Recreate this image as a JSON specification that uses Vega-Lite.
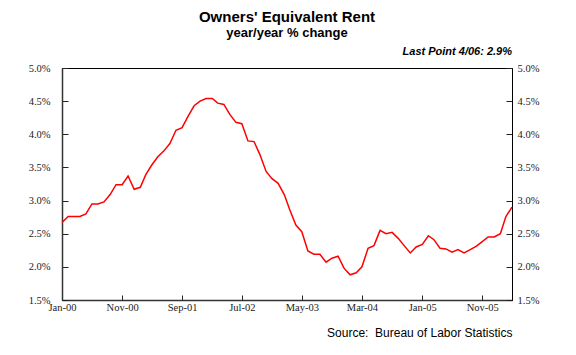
{
  "$schema": "https://vega.github.io/schema/vega-lite/v6.json",
  "autosize": "none",
  "width": 450,
  "height": 232,
  "padding": {"left": 62, "top": 68, "right": 64, "bottom": 55},
  "background": "white",
  "title": {
    "text": "Owners' Equivalent Rent",
    "subtitle": "year/year % change",
    "anchor": "middle",
    "frame": "group",
    "font": "Liberation Sans",
    "fontSize": 15,
    "fontWeight": "bold",
    "color": "black",
    "subtitleFont": "Liberation Sans",
    "subtitleFontSize": 13,
    "subtitleFontWeight": "bold",
    "subtitleColor": "black",
    "subtitlePadding": 2,
    "offset": 6
  },
  "config": {
    "view": {"stroke": "black", "strokeWidth": 1},
    "axis": {
      "grid": false,
      "labelFont": "Liberation Serif",
      "labelFontSize": 10.5,
      "labelColor": "#222",
      "tickColor": "#222",
      "domainColor": "#333",
      "domainWidth": 1.5,
      "labelOverlap": false,
      "labelFlush": false,
      "labelBound": false
    }
  },
  "datasets": {
    "oer": [
      {"date": "2000-01-01", "value": 2.67},
      {"date": "2000-02-01", "value": 2.76},
      {"date": "2000-03-01", "value": 2.76},
      {"date": "2000-04-01", "value": 2.76},
      {"date": "2000-05-01", "value": 2.80},
      {"date": "2000-06-01", "value": 2.95},
      {"date": "2000-07-01", "value": 2.95},
      {"date": "2000-08-01", "value": 2.98},
      {"date": "2000-09-01", "value": 3.09},
      {"date": "2000-10-01", "value": 3.24},
      {"date": "2000-11-01", "value": 3.24},
      {"date": "2000-12-01", "value": 3.37},
      {"date": "2001-01-01", "value": 3.17},
      {"date": "2001-02-01", "value": 3.20},
      {"date": "2001-03-01", "value": 3.39},
      {"date": "2001-04-01", "value": 3.54},
      {"date": "2001-05-01", "value": 3.66},
      {"date": "2001-06-01", "value": 3.75},
      {"date": "2001-07-01", "value": 3.86},
      {"date": "2001-08-01", "value": 4.06},
      {"date": "2001-09-01", "value": 4.10},
      {"date": "2001-10-01", "value": 4.27},
      {"date": "2001-11-01", "value": 4.43},
      {"date": "2001-12-01", "value": 4.50},
      {"date": "2002-01-01", "value": 4.54},
      {"date": "2002-02-01", "value": 4.54},
      {"date": "2002-03-01", "value": 4.47},
      {"date": "2002-04-01", "value": 4.45},
      {"date": "2002-05-01", "value": 4.30},
      {"date": "2002-06-01", "value": 4.18},
      {"date": "2002-07-01", "value": 4.16},
      {"date": "2002-08-01", "value": 3.90},
      {"date": "2002-09-01", "value": 3.89},
      {"date": "2002-10-01", "value": 3.69},
      {"date": "2002-11-01", "value": 3.44},
      {"date": "2002-12-01", "value": 3.33},
      {"date": "2003-01-01", "value": 3.26},
      {"date": "2003-02-01", "value": 3.09},
      {"date": "2003-03-01", "value": 2.86},
      {"date": "2003-04-01", "value": 2.63},
      {"date": "2003-05-01", "value": 2.53},
      {"date": "2003-06-01", "value": 2.24},
      {"date": "2003-07-01", "value": 2.19},
      {"date": "2003-08-01", "value": 2.19},
      {"date": "2003-09-01", "value": 2.07},
      {"date": "2003-10-01", "value": 2.13},
      {"date": "2003-11-01", "value": 2.16},
      {"date": "2003-12-01", "value": 1.98},
      {"date": "2004-01-01", "value": 1.88},
      {"date": "2004-02-01", "value": 1.91},
      {"date": "2004-03-01", "value": 2.00},
      {"date": "2004-04-01", "value": 2.28},
      {"date": "2004-05-01", "value": 2.32},
      {"date": "2004-06-01", "value": 2.55},
      {"date": "2004-07-01", "value": 2.50},
      {"date": "2004-08-01", "value": 2.52},
      {"date": "2004-09-01", "value": 2.43},
      {"date": "2004-10-01", "value": 2.32},
      {"date": "2004-11-01", "value": 2.21},
      {"date": "2004-12-01", "value": 2.30},
      {"date": "2005-01-01", "value": 2.34},
      {"date": "2005-02-01", "value": 2.47},
      {"date": "2005-03-01", "value": 2.41},
      {"date": "2005-04-01", "value": 2.28},
      {"date": "2005-05-01", "value": 2.27},
      {"date": "2005-06-01", "value": 2.22},
      {"date": "2005-07-01", "value": 2.26},
      {"date": "2005-08-01", "value": 2.21},
      {"date": "2005-09-01", "value": 2.26},
      {"date": "2005-10-01", "value": 2.31},
      {"date": "2005-11-01", "value": 2.38},
      {"date": "2005-12-01", "value": 2.45},
      {"date": "2006-01-01", "value": 2.45},
      {"date": "2006-02-01", "value": 2.50},
      {"date": "2006-03-01", "value": 2.76},
      {"date": "2006-04-01", "value": 2.90}
    ]
  },
  "data": {"name": "oer"},
  "encoding": {
    "x": {
      "field": "date",
      "type": "temporal",
      "scale": {
        "type": "utc",
        "domain": [
          {"year": 2000, "month": 1, "date": 1, "utc": true},
          {"year": 2006, "month": 4, "date": 1, "utc": true}
        ]
      },
      "axis": {
        "values": [
          {"year": 2000, "month": 1, "date": 1, "utc": true},
          {"year": 2000, "month": 11, "date": 1, "utc": true},
          {"year": 2001, "month": 9, "date": 1, "utc": true},
          {"year": 2002, "month": 7, "date": 1, "utc": true},
          {"year": 2003, "month": 5, "date": 1, "utc": true},
          {"year": 2004, "month": 3, "date": 1, "utc": true},
          {"year": 2005, "month": 1, "date": 1, "utc": true},
          {"year": 2005, "month": 11, "date": 1, "utc": true}
        ],
        "labelExpr": "utcFormat(datum.value, '%b-%y')",
        "labelFont": "Liberation Serif",
        "labelFontSize": 10.5,
        "tickSize": -5,
        "labelPadding": 7,
        "title": "Source:\u00a0 Bureau of Labor Statistics",
        "titleAnchor": "end",
        "titleFont": "Liberation Sans",
        "titleFontSize": 12,
        "titleFontWeight": "normal",
        "titleColor": "black",
        "titlePadding": 15
      }
    }
  },
  "layer": [
    {
      "mark": {"type": "line", "color": "#ff0000", "strokeWidth": 1.5},
      "encoding": {
        "y": {
          "field": "value",
          "type": "quantitative",
          "scale": {"domain": [1.5, 5.0], "nice": false, "zero": false},
          "axis": {
            "orient": "left",
            "values": [1.5, 2.0, 2.5, 3.0, 3.5, 4.0, 4.5, 5.0],
            "labelExpr": "format(datum.value, '.1f') + '%'",
            "labelFont": "Liberation Serif",
            "labelFontSize": 10.5,
            "tickSize": -6,
            "labelPadding": 18,
            "title": null
          }
        }
      }
    },
    {
      "mark": {"type": "line", "strokeOpacity": 0},
      "encoding": {
        "y": {
          "field": "value",
          "type": "quantitative",
          "scale": {"domain": [1.5, 5.0], "nice": false, "zero": false},
          "axis": {
            "orient": "right",
            "values": [1.5, 2.0, 2.5, 3.0, 3.5, 4.0, 4.5, 5.0],
            "labelExpr": "format(datum.value, '.1f') + '%'",
            "labelFont": "Liberation Serif",
            "labelFontSize": 10.5,
            "tickSize": -6,
            "labelPadding": 11,
            "domainWidth": 1,
            "domainColor": "black",
            "title": null
          }
        }
      }
    },
    {
      "transform": [{"filter": "utcyear(datum.date) == 2006 && utcmonth(datum.date) == 3"}],
      "mark": {
        "type": "text",
        "text": "Last Point 4/06: 2.9%",
        "align": "right",
        "baseline": "alphabetic",
        "dy": -13,
        "font": "Liberation Sans",
        "fontSize": 11,
        "fontWeight": "bold",
        "fontStyle": "italic",
        "color": "black"
      },
      "encoding": {
        "y": {"datum": 5.0, "type": "quantitative", "axis": null}
      }
    }
  ],
  "resolve": {"axis": {"y": "independent"}}
}
